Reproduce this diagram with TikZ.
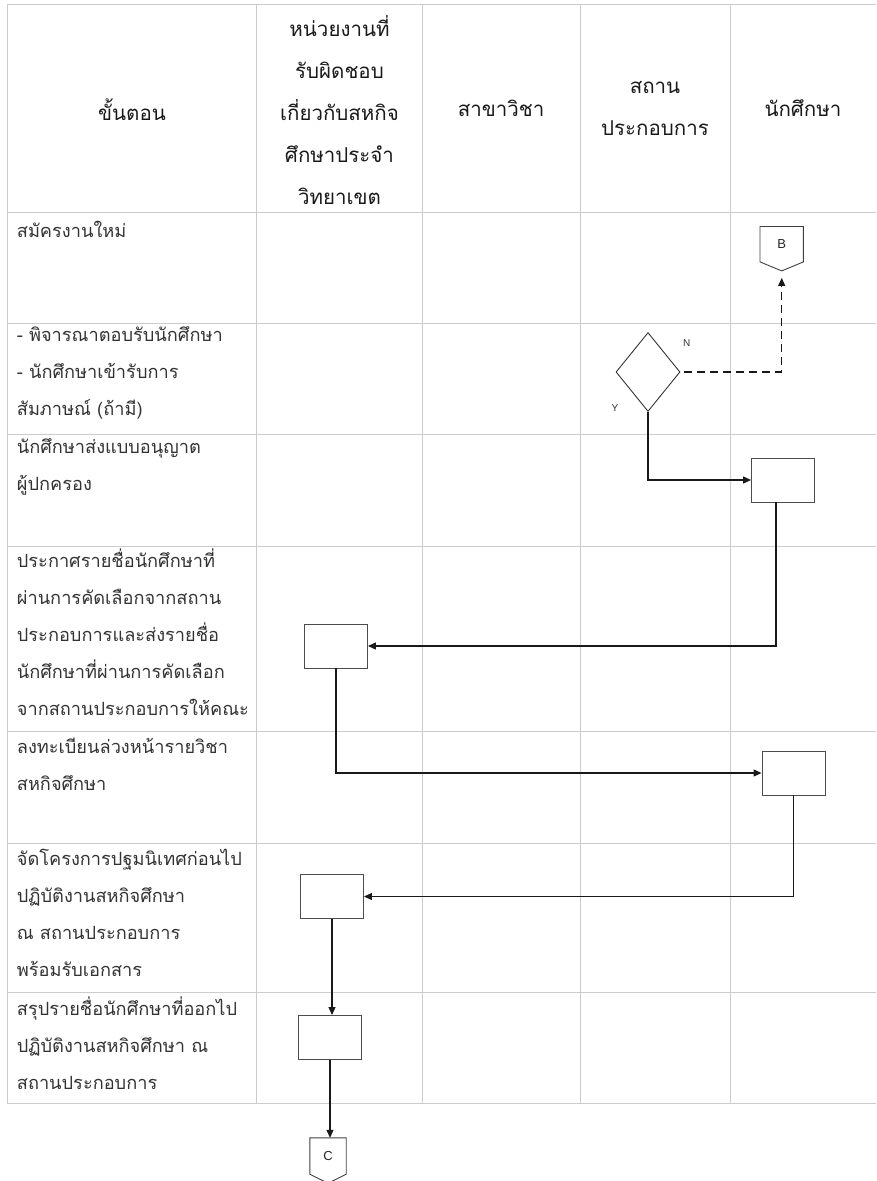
\documentclass[tikz,border=0pt]{standalone}
\usepackage{fontspec}
\setmainfont[Script=Thai]{Loma}
\newfontfamily\latinfont{Liberation Sans}
\usetikzlibrary{positioning, arrows.meta, shapes.geometric}

\begin{document}
\begin{tikzpicture}[x=1pt, y=-1pt, >={Triangle[length=8pt,width=7pt]},
    gridline/.style={draw=black!20, line width=0.9pt},
    head/.style={align=center, inner sep=0pt, font=\fontsize{20.5}{42}\selectfont, text=black!90},
    steptext/.style={anchor=north west, align=left, inner sep=0pt, font=\fontsize{18.2}{37}\selectfont, text=black!80},
    procbox/.style={draw=black!70, line width=0.9pt, minimum width=63pt, minimum height=44pt, inner sep=0pt},
    decision/.style={diamond, aspect=0.81, draw=black!80, line width=0.9pt, minimum width=64pt, minimum height=79pt, inner sep=0pt},
    marker/.style={inner sep=0pt, font=\latinfont\fontsize{13}{13}\selectfont, text=black!85},
    markerline/.style={draw=black!75, line width=0.9pt},
    flowlabel/.style={inner sep=0pt, font=\latinfont\fontsize{10}{10}\selectfont, text=black!80},
    flow/.style={->, line width=1.1pt, black!90}]
    \useasboundingbox (0,0) rectangle (876,1181);

    % table grid
    \foreach \y in {4,212,323,434,546.5,731.7,843.3,992.5,1103.3}
        \draw[gridline] (7.3,\y) -- (876,\y);
    \foreach \x in {7.3,256.7,422,580.7,730}
        \draw[gridline] (\x,4) -- (\x,1103.3);

    % header
    \node[head] (hStep) at (132,110) {ขั้นตอน};
    \node[head] (hUnit) at (339.5,110) {หน่วยงานที่\\รับผิดชอบ\\เกี่ยวกับสหกิจ\\ศึกษาประจำ\\วิทยาเขต};
    \node[head] (hMajor) at (501,108) {สาขาวิชา};
    \node[head] (hFirm) at (655,108) {สถาน\\ประกอบการ};
    \node[head] (hStudent) at (803,108) {นักศึกษา};

    % steps
    \node[steptext] (sApply) at (16.7,211) {\strut สมัครงานใหม่};
    \node[steptext] (sScreen) at (16.7,315.5) {\strut - พิจารณาตอบรับนักศึกษา\\- นักศึกษาเข้ารับการ\\สัมภาษณ์ (ถ้ามี)};
    \node[steptext] (sConsent) at (16.7,427) {\strut นักศึกษาส่งแบบอนุญาต\\ผู้ปกครอง};
    \node[steptext] (sAnnounce) at (16.7,541) {\strut ประกาศรายชื่อนักศึกษาที่\\ผ่านการคัดเลือกจากสถาน\\ประกอบการและส่งรายชื่อ\\นักศึกษาที่ผ่านการคัดเลือก\\จากสถานประกอบการให้คณะ};
    \node[steptext] (sRegister) at (16.7,727.5) {\strut ลงทะเบียนล่วงหน้ารายวิชา\\สหกิจศึกษา};
    \node[steptext] (sOrient) at (16.7,839.5) {\strut จัดโครงการปฐมนิเทศก่อนไป\\ปฏิบัติงานสหกิจศึกษา\\ณ สถานประกอบการ\\พร้อมรับเอกสาร};
    \node[steptext] (sSummary) at (16.7,989.5) {\strut สรุปรายชื่อนักศึกษาที่ออกไป\\ปฏิบัติงานสหกิจศึกษา ณ\\สถานประกอบการ};

    % flow shapes
    \node[decision] (screen) at (648,372) {};
    \node[procbox] (consent) at (783,480) {};
    \node[procbox] (announce) at (336,646) {};
    \node[procbox] (register) at (793.5,773) {};
    \node[procbox] (orient) at (332,896.5) {};
    \node[procbox] (summary) at (330,1037.5) {};

    % off-page connectors
    \node[marker, minimum width=43pt, minimum height=35pt] (toB) at (781.7,244.2) {B};
    \coordinate (toBtip) at ([yshift=-9pt]toB.south);
    \draw[markerline] (toB.north west) -- (toB.north east) -- (toB.south east) -- (toBtip) -- (toB.south west) -- cycle;
    \node[marker, minimum width=36pt, minimum height=36pt] (toC) at (328,1156) {C};
    \coordinate (toCtip) at ([yshift=-9pt]toC.south);
    \draw[markerline] (toC.north west) -- (toC.north east) -- (toC.south east) -- (toCtip) -- (toC.south west) -- cycle;

    \node[flowlabel] (labN) at (686.7,343.3) {N};
    \node[flowlabel] (labY) at (615,408.3) {Y};

    % connectors
    \draw[flow, dash pattern=on 8pt off 5pt, shorten <=4pt, shorten >=7pt] (screen.east) -| (toBtip);
    \draw[flow] (screen.south) |- (consent.west);
    \draw[flow] ([xshift=-7pt]consent.south) |- (announce.east);
    \draw[flow] (announce.south) |- (register.west);
    \draw[flow] (register.south) |- (orient.east);
    \draw[flow] (orient.south) -- (orient.south |- summary.north);
    \draw[flow] (summary.south) -- (summary.south |- toC.north);
\end{tikzpicture}
\end{document}
